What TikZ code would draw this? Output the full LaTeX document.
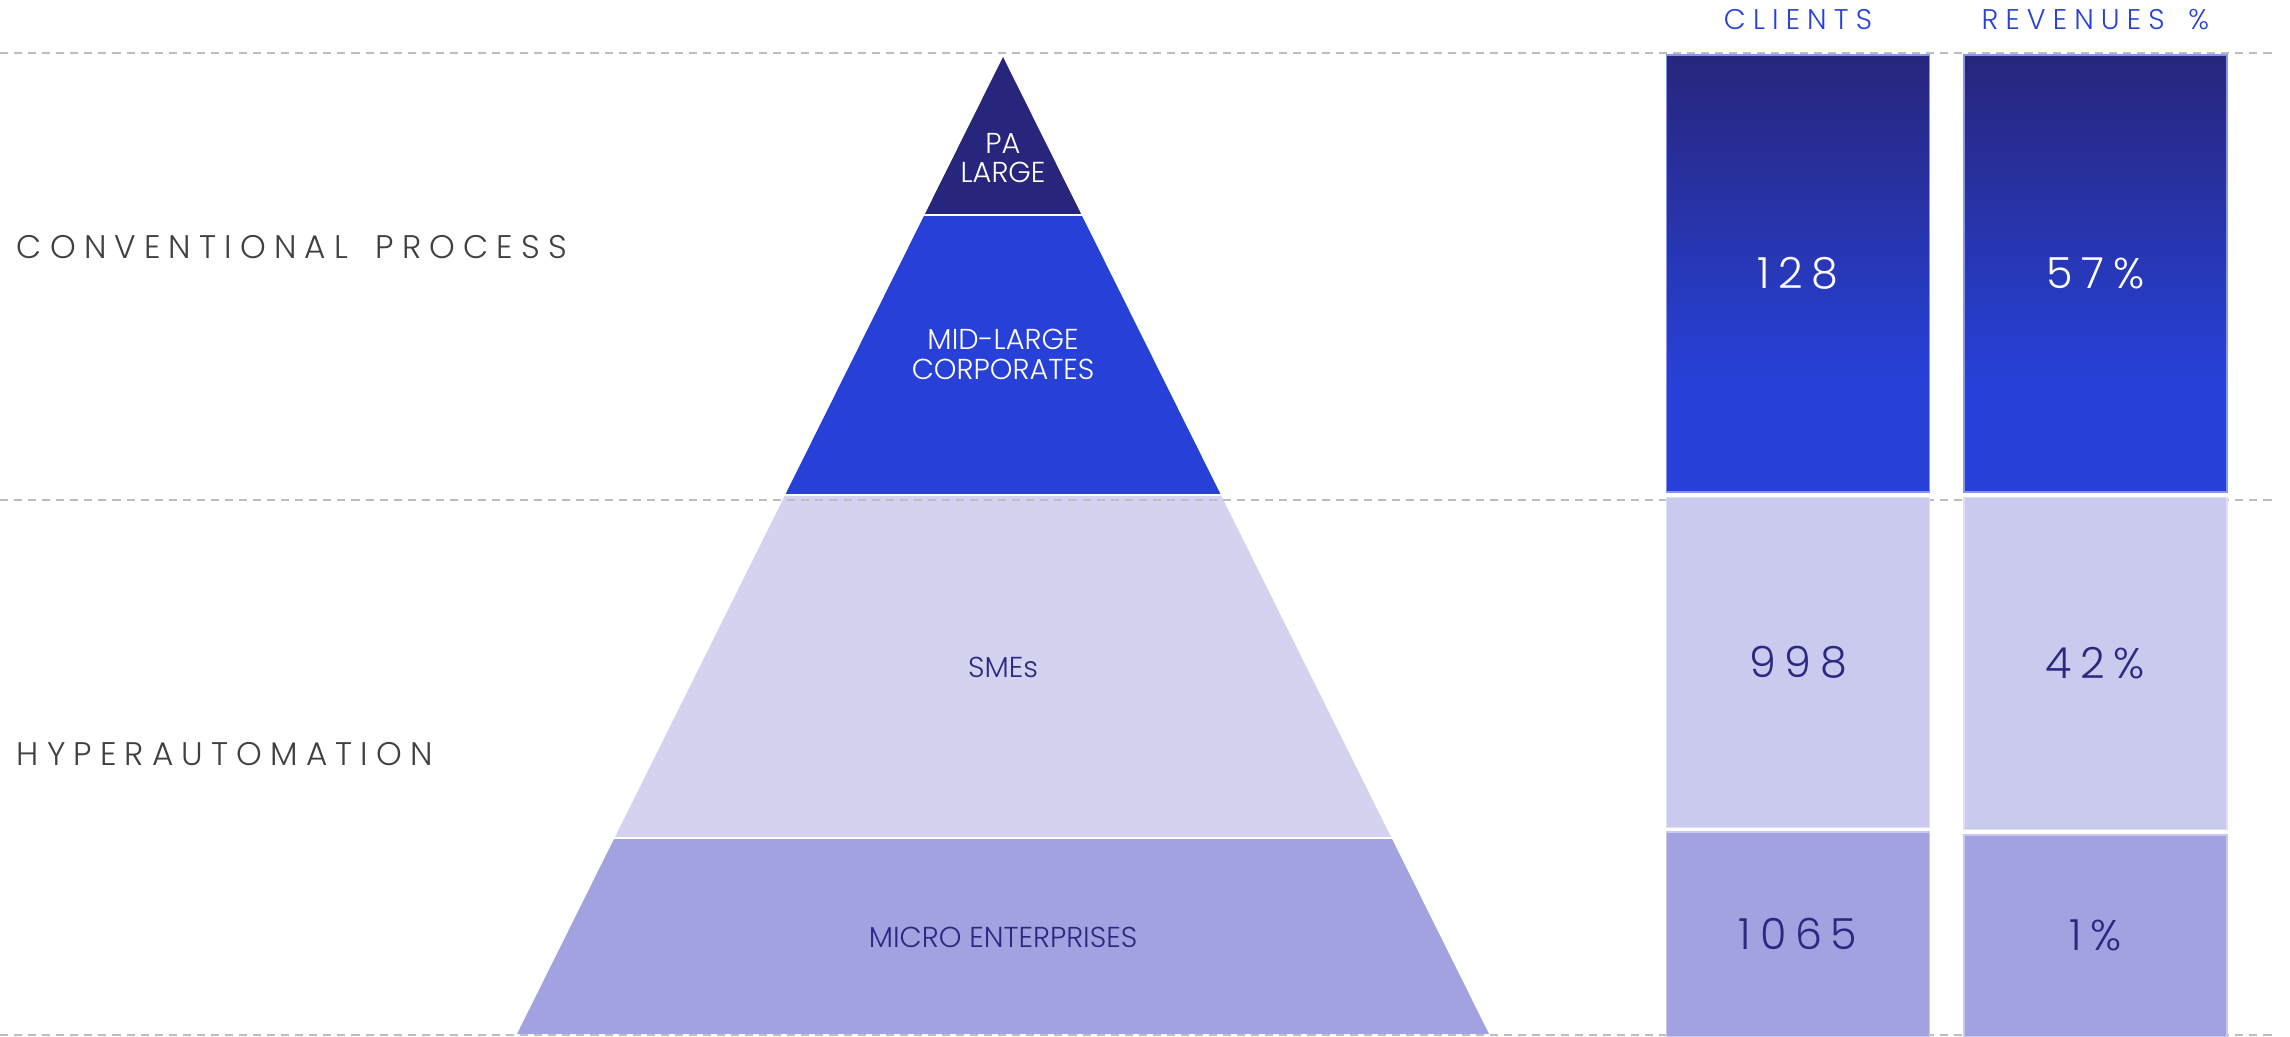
\documentclass[tikz,border=0pt]{standalone}
\usepackage{fontspec}
\setmainfont{Poppins Light}
\newfontfamily\spacedfont[LetterSpace=25, WordSpace=1.6]{Poppins Light}
\newfontfamily\numfont[LetterSpace=20]{Poppins Light}
\usetikzlibrary{positioning, calc}
\definecolor{pyrnavy}{RGB}{40,38,124}
\definecolor{pyrblue}{RGB}{39,65,216}
\definecolor{pyrlilac}{RGB}{211,211,240}
\definecolor{barlilac}{RGB}{202,202,238}
\definecolor{pyrviolet}{RGB}{163,162,225}
\definecolor{txtnavy}{RGB}{42,40,128}
\definecolor{txtgray}{RGB}{64,64,68}
\definecolor{guidegray}{RGB}{190,190,190}
\pgfdeclareverticalshading{barshade}{100bp}{color(0bp)=(pyrblue); color(37.5bp)=(pyrblue); color(75bp)=(pyrnavy); color(100bp)=(pyrnavy)}

\begin{document}
\begin{tikzpicture}[
  guide/.style={guidegray, line width=0.55pt, dash pattern=on 2.3pt off 1.7pt},
  seglabel/.style={align=center, inner sep=0pt, font=\fontsize{8.2}{8.5}\selectfont},
  sidelabel/.style={anchor=base west, inner sep=0pt, text=txtgray, font=\spacedfont\fontsize{9.3}{11}\selectfont},
  header/.style={anchor=base, inner sep=0pt, text=pyrblue, font=\spacedfont\fontsize{8.1}{10}\selectfont},
  bar/.style={fill=#1, draw=#1!60!white, line width=0.4pt, minimum width=2.63cm, inner sep=0pt, text=txtnavy, font=\numfont\fontsize{12.2}{14}\selectfont},
  topbar/.style={shading=barshade, draw=pyrblue!55!white, line width=0.4pt, minimum width=2.63cm, minimum height=4.37cm, inner sep=0pt, text=white, font=\numfont\fontsize{12.2}{14}\selectfont}
]
  \useasboundingbox (0,0) rectangle (22.9,10.36);

  % pyramid, cut into four bands
  \coordinate (apex) at (10.03,9.79);
  \coordinate (baseL) at (5.17,0.02);
  \coordinate (baseR) at (14.89,0.02);
  \foreach \ytop/\ybot/\col in {9.79/8.22/pyrnavy, 8.19/5.42/pyrblue, 5.39/2.00/pyrlilac, 1.97/0.02/pyrviolet}{
    \begin{scope}
      \clip (0,\ybot) rectangle (23,\ytop);
      \fill[\col] (apex) -- (baseL) -- (baseR) -- cycle;
    \end{scope}
  }

  \foreach \y in {9.83,5.36,0.01}
    \draw[guide] (0,\y) -- (22.73,\y);

  \node[seglabel, text=white] (palarge) at (10.03,8.78) {PA\\LARGE};
  \node[seglabel, text=white] (midlarge) at (10.03,6.82) {MID-LARGE\\CORPORATES};
  \node[seglabel, text=txtnavy] (smes) at (10.03,3.69) {SMEs};
  \node[seglabel, text=txtnavy] (micro) at (10.03,0.99) {MICRO ENTERPRISES};

  \node[sidelabel] (conv) at (0.16,7.77) {CONVENTIONAL PROCESS};
  \node[sidelabel] (hyper) at (0.16,2.71) {HYPERAUTOMATION};

  % clients and revenue columns
  \node[topbar] (cl1) at (17.98,7.625) {128};
  \node[bar=barlilac, minimum height=3.30cm, below=0.04cm of cl1] (cl2) {998};
  \node[bar=pyrviolet, minimum height=2.05cm, below=0.03cm of cl2] (cl3) {1065};

  \node[topbar, right=0.33cm of cl1] (rv1) {57\%};
  \node[bar=barlilac, minimum height=3.32cm, below=0.04cm of rv1] (rv2) {42\%};
  \node[bar=pyrviolet, minimum height=2.02cm, below=0.04cm of rv2] (rv3) {1\%};

  \node[header] (hdclients) at ($(cl1.north)+(0,0.25)$) {CLIENTS};
  \node[header] (hdrevenue) at ($(rv1.north)+(0,0.25)$) {REVENUES \%};
\end{tikzpicture}
\end{document}
